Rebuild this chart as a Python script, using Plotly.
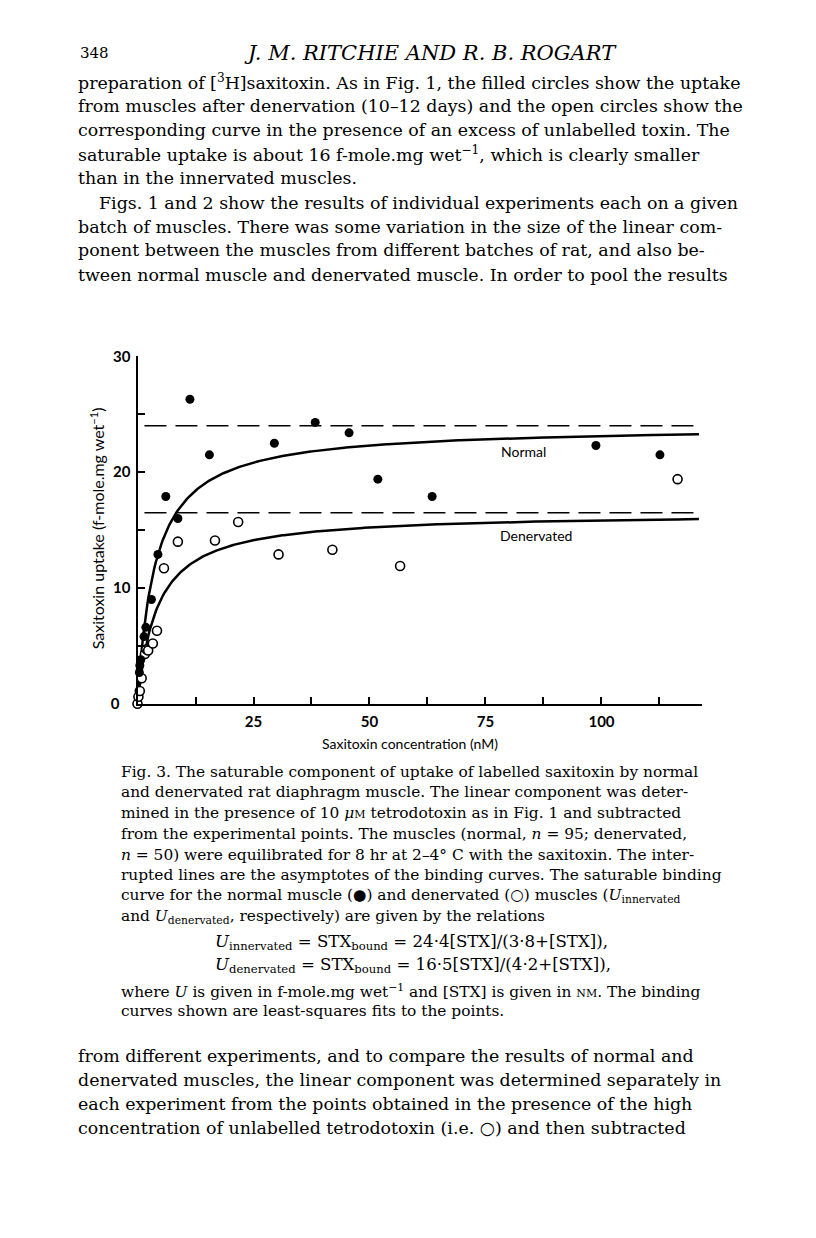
import numpy as np
import plotly.graph_objects as go

# 饱和摄取数据
normal_conc = [0.4, 0.5, 0.7, 1.4, 1.8, 3.0, 4.4, 6.1, 8.7, 11.3, 15.5, 29.5, 38.3, 45.6, 51.8, 63.5, 98.8, 112.6]
normal_uptake = [2.7, 3.3, 3.8, 5.8, 6.6, 9.0, 12.9, 17.9, 16.0, 26.3, 21.5, 22.5, 24.3, 23.4, 19.4, 17.9, 22.3, 21.5]
dener_conc = [0.0, 0.2, 0.5, 0.9, 1.6, 1.9, 2.3, 3.3, 4.2, 5.7, 8.7, 16.7, 21.7, 30.4, 42.0, 56.6, 116.4]
dener_uptake = [0.0, 0.6, 1.1, 2.2, 4.3, 4.7, 4.6, 5.2, 6.3, 11.7, 14.0, 14.1, 15.7, 12.9, 13.3, 11.9, 19.4]

# 结合曲线参数 (Bmax, K), 按图中所画
normal_fit = (24.0, 3.8)
dener_fit = (16.5, 4.2)

x_tickvals = [12.5, 25, 37.5, 50, 62.5, 75, 87.5, 100, 112.5]
x_ticktext = ['', '25', '', '50', '', '75', '', '100', '']
y_tickvals = [0, 5, 10, 15, 20, 25, 30]
y_ticktext = ['0\u00a0\u00a0\u00a0', '', '10', '', '20', '', '30']

W, H = 816, 1238
SERIF = 'DejaVu Serif'
SANS = 'Lato'

header = [
    (78, 44, '348', 'left', 15),
    (430, 44, '<i>J. M. RITCHIE AND R. B. ROGART</i>', 'center', 21),
]

body_top = [
    (76, 73, 'preparation of [<sup>3</sup>H]saxitoxin. As in Fig. 1, the filled circles show the uptake'),
    (76, 97, 'from muscles after denervation (10–12 days) and the open circles show the'),
    (76, 122, 'corresponding curve in the presence of an excess of unlabelled toxin. The'),
    (76, 146, 'saturable uptake is about 16 f-mole.mg wet<sup>−1</sup>, which is clearly smaller'),
    (76, 170, 'than in the innervated muscles.'),
    (97, 196, 'Figs. 1 and 2 show the results of individual experiments each on a given'),
    (76, 220, 'batch of muscles. There was some variation in the size of the linear com-'),
    (76, 244, 'ponent between the muscles from different batches of rat, and also be-'),
    (76, 269, 'tween normal muscle and denervated muscle. In order to pool the results'),
]

SC = "<span style='font-size:11px'>%s</span>"
caption = [
    (119, 773, 'Fig. 3. The saturable component of uptake of labelled saxitoxin by normal'),
    (119, 794, 'and denervated rat diaphragm muscle. The linear component was deter-'),
    (119, 815, 'mined in the presence of 10 <i>μ</i>' + SC % 'M' + ' tetrodotoxin as in Fig. 1 and subtracted'),
    (119, 836, 'from the experimental points. The muscles (normal, <i>n</i> = 95; denervated,'),
    (119, 857, '<i>n</i> = 50) were equilibrated for 8 hr at 2–4° C with the saxitoxin. The inter-'),
    (119, 878, 'rupted lines are the asymptotes of the binding curves. The saturable binding'),
    (119, 899, 'curve for the normal muscle (●) and denervated (○) muscles (<i>U</i><sub>innervated</sub>'),
    (119, 920, 'and <i>U</i><sub>denervated</sub>, respectively) are given by the relations'),
    (213, 946, '<i>U</i><sub>innervated</sub> = STX<sub>bound</sub> = 24·4[STX]/(3·8+[STX]),'),
    (213, 970, '<i>U</i><sub>denervated</sub> = STX<sub>bound</sub> = 16·5[STX]/(4·2+[STX]),'),
    (119, 995, 'where <i>U</i> is given in f-mole.mg wet<sup>−1</sup> and [STX] is given in ' + SC % 'NM' + '. The binding'),
    (119, 1016, 'curves shown are least-squares fits to the points.'),
]

body_bottom = [
    (76, 1061, 'from different experiments, and to compare the results of normal and'),
    (76, 1086, 'denervated muscles, the linear component was determined separately in'),
    (76, 1110, 'each experiment from the points obtained in the presence of the high'),
    (76, 1135, 'concentration of unlabelled tetrodotoxin (i.e. ○) and then subtracted'),
]


def binding(conc, fit):
    bmax, k = fit
    return bmax * conc / (k + conc)


def px_x(px):
    return px / W


def px_y(py):
    return 1 - py / H


fig = go.Figure()

conc = np.linspace(0, 121, 400)
for fit, xmax in [(normal_fit, 121.6), (dener_fit, 120.6)]:
    # 渐近线
    fig.add_trace(go.Scatter(
        x=[1.5, xmax], y=[fit[0], fit[0]], mode='lines',
        line=dict(color='black', width=1.5, dash='22px,9px'),
        hoverinfo='skip'
    ))
    # 结合曲线
    fig.add_trace(go.Scatter(
        x=conc, y=binding(conc, fit), mode='lines',
        line=dict(color='black', width=2.5),
        hoverinfo='skip'
    ))

fig.add_trace(go.Scatter(
    x=dener_conc, y=dener_uptake, mode='markers', name='Denervated',
    marker=dict(size=9, color='white', line=dict(color='black', width=1.6)),
    cliponaxis=False
))
fig.add_trace(go.Scatter(
    x=normal_conc, y=normal_uptake, mode='markers', name='Normal',
    marker=dict(size=9, color='black'),
    cliponaxis=False
))

axis_common = dict(
    showline=True, linecolor='black', linewidth=2,
    ticks='inside', ticklen=7, tickwidth=1.5, tickcolor='black',
    showgrid=False, zeroline=False,
    tickfont=dict(family=SANS, size=15, color='black', weight='bold'),
)

fig.update_xaxes(
    domain=[px_x(137.5), px_x(701.7)], range=[0, 121.6],
    tickmode='array', tickvals=x_tickvals, ticktext=x_ticktext,
    ticklabelstandoff=3, **axis_common
)
fig.update_yaxes(
    domain=[px_y(704), px_y(351.5)], range=[0, 30],
    tickmode='array', tickvals=y_tickvals, ticktext=y_ticktext,
    ticklabelstandoff=2, **axis_common
)

ann = []
# 曲线标签
ann.append(dict(x=83.1, y=21.8, xref='x', yref='y', text='Normal', showarrow=False,
                font=dict(family=SANS, size=14, color='black')))
ann.append(dict(x=85.9, y=14.55, xref='x', yref='y', text='Denervated', showarrow=False,
                font=dict(family=SANS, size=14, color='black')))
# 坐标轴标题
ann.append(dict(x=px_x(410), y=px_y(744), xref='paper', yref='paper',
                text='Saxitoxin concentration (nM)', showarrow=False,
                font=dict(family=SANS, size=14, color='black')))
ann.append(dict(x=px_x(97), y=px_y(526), xref='paper', yref='paper', textangle=-90,
                xanchor='center', yanchor='middle',
                text='Saxitoxin uptake (f-mole.mg wet<sup>−1</sup>)', showarrow=False,
                font=dict(family=SANS, size=16, color='black')))

for px, py, txt, align, size in header:
    ann.append(dict(x=px_x(px), y=px_y(py), xref='paper', yref='paper', text=txt,
                    xanchor=align, yanchor='middle', showarrow=False,
                    font=dict(family=SERIF, size=size, color='black')))

for lines, size in [(body_top, 17.4), (body_bottom, 17.4)]:
    for px, py, txt in lines:
        ann.append(dict(x=px_x(px), y=px_y(py), xref='paper', yref='paper', text=txt,
                        xanchor='left', yanchor='middle', showarrow=False,
                        font=dict(family=SERIF, size=size, color='black')))

for px, py, txt in caption:
    size = 16.6 if px > 150 else 15.4
    ann.append(dict(x=px_x(px), y=px_y(py), xref='paper', yref='paper', text=txt,
                    xanchor='left', yanchor='middle', showarrow=False,
                    font=dict(family=SERIF, size=size, color='black')))

fig.update_layout(
    width=W, height=H,
    margin=dict(l=0, r=0, t=0, b=0),
    paper_bgcolor='white', plot_bgcolor='white',
    showlegend=False,
    annotations=ann,
)

# 去掉页面默认边距和工具栏
fig.write_html("out.html", config={'displayModeBar': False},
               post_script="document.body.style.margin='0';")
